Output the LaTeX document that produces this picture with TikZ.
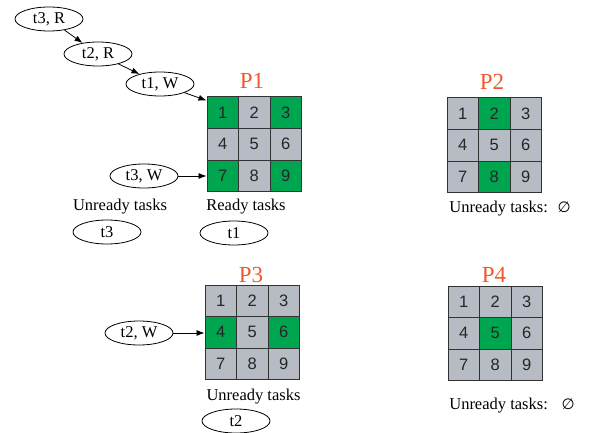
\documentclass[tikz,border=0pt]{standalone}
\usepackage{fontspec}
\setmainfont{Liberation Serif}
\newfontfamily\gridfont{Liberation Sans}
\newfontfamily\symbfont{DejaVu Sans}
\usetikzlibrary{shapes.geometric,arrows.meta}
\definecolor{cellgreen}{RGB}{0,165,80}
\definecolor{cellgray}{RGB}{183,187,195}
\definecolor{plabel}{RGB}{238,88,45}
\definecolor{gridline}{RGB}{50,50,50}

\begin{document}
\begin{tikzpicture}[x=1pt,y=-1pt,
  task/.style={ellipse, draw, line width=0.8pt, minimum width=68pt, minimum height=24pt,
    inner sep=0pt, font=\fontsize{16.5}{16.5}\selectfont},
  cell/.style={rectangle, draw=gridline, line width=1pt, minimum size=31.5pt, inner sep=0pt,
    fill=cellgray, text=black!85, font=\gridfont\fontsize{16.5}{16.5}\selectfont},
  plab/.style={text=plabel, font=\fontsize{23}{23}\selectfont, inner sep=0pt},
  caption/.style={font=\fontsize{16.5}{16.5}\selectfont, inner sep=0pt},
  flow/.style={line width=0.8pt, -{Latex[length=8pt,width=6pt]}}]
\useasboundingbox (0,0) rectangle (591,433);

% grid of processor P1
\foreach \n/\c in {1/cellgreen,2/cellgray,3/cellgreen,4/cellgray,5/cellgray,6/cellgray,7/cellgreen,8/cellgray,9/cellgreen}{
  \pgfmathtruncatemacro{\col}{mod(\n-1,3)}
  \pgfmathtruncatemacro{\row}{(\n-1)/3}
  \node[cell, fill=\c] (p1c\n) at (207+15.75+31.5*\col, 97+15.75+31.5*\row) {\n};
}
% grid of processor P2
\foreach \n/\c in {1/cellgray,2/cellgreen,3/cellgray,4/cellgray,5/cellgray,6/cellgray,7/cellgray,8/cellgreen,9/cellgray}{
  \pgfmathtruncatemacro{\col}{mod(\n-1,3)}
  \pgfmathtruncatemacro{\row}{(\n-1)/3}
  \node[cell, fill=\c] (p2c\n) at (447+15.75+31.5*\col, 98+15.75+31.5*\row) {\n};
}
% grid of processor P3
\foreach \n/\c in {1/cellgray,2/cellgray,3/cellgray,4/cellgreen,5/cellgray,6/cellgreen,7/cellgray,8/cellgray,9/cellgray}{
  \pgfmathtruncatemacro{\col}{mod(\n-1,3)}
  \pgfmathtruncatemacro{\row}{(\n-1)/3}
  \node[cell, fill=\c] (p3c\n) at (205+15.75+31.5*\col, 285+15.75+31.5*\row) {\n};
}
% grid of processor P4
\foreach \n/\c in {1/cellgray,2/cellgray,3/cellgray,4/cellgray,5/cellgreen,6/cellgray,7/cellgray,8/cellgray,9/cellgray}{
  \pgfmathtruncatemacro{\col}{mod(\n-1,3)}
  \pgfmathtruncatemacro{\row}{(\n-1)/3}
  \node[cell, fill=\c] (p4c\n) at (448+15.75+31.5*\col, 286+15.75+31.5*\row) {\n};
}

% processor labels
\node[plab] (lp1) at (252,80.5) {P1};
\node[plab] (lp2) at (492,82) {P2};
\node[plab] (lp3) at (251,275) {P3};
\node[plab] (lp4) at (494,274.5) {P4};

% task queue of P1
\node[task] (t3R) at (49,19) {t3, R};
\node[task] (t2R) at (98,54) {t2, R};
\node[task] (t1W) at (160,84) {t1, W};
\node[task] (t3W) at (144,176) {t3, W};
\draw[flow] (t3R) -- (t2R);
\draw[flow] (t2R) -- (t1W);
\draw[flow] (t1W) -- ([yshift=-4pt]p1c1.north west);
\draw[flow] (t3W.east) -- (t3W.east -| p1c7.west);

\node[caption] (unr1) at (120,207) {Unready tasks};
\node[caption] (rdy1) at (246,207) {Ready tasks};
\node[task] (t3) at (107,232) {t3};
\node[task] (t1) at (234,233) {t1};

% P2
\node[caption] (unr2) at (510,209) {Unready tasks:~ {\symbfont\fontsize{15}{15}\selectfont ∅}};

% P3
\node[task] (t2W) at (139,333) {t2, W};
\draw[flow] (t2W.east) -- (t2W.east -| p3c4.west);
\node[caption] (unr3) at (253.5,397) {Unready tasks};
\node[task] (t2) at (236,421) {t2};

% P4
\node[caption] (unr4) at (512,406) {Unready tasks:~~ {\symbfont\fontsize{15}{15}\selectfont ∅}};
\end{tikzpicture}
\end{document}
